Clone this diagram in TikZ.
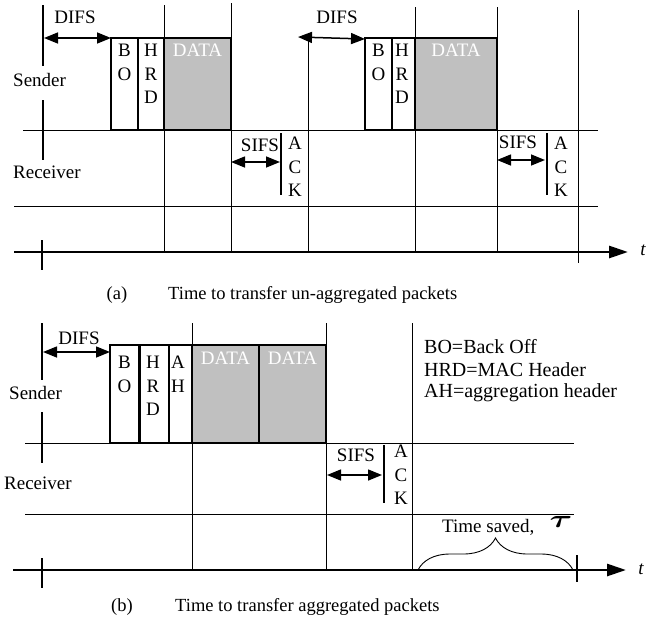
\documentclass[tikz,border=0pt]{standalone}
\usepackage{fontspec}
\setmainfont{Liberation Serif}
\usetikzlibrary{arrows.meta,decorations.pathreplacing}
\definecolor{datagray}{HTML}{C0C0C0}
\begin{document}
\begin{tikzpicture}[x=1pt,y=-1pt,
  lbl/.style={font=\fontsize{19}{23.5}\selectfont, inner sep=0pt},
  leg/.style={font=\fontsize{20}{24}\selectfont, inner sep=0pt, anchor=west},
  captext/.style={font=\fontsize{18.5}{22}\selectfont, inner sep=0pt},
  stack/.style={lbl, align=center, anchor=north},
  thinline/.style={line width=0.9pt},
  boxline/.style={line width=1.4pt},
  thickline/.style={line width=2.2pt},
  axisline/.style={line width=2.8pt, -{Triangle[length=19pt,width=12pt]}},
  dbl/.style={line width=1.5pt, {Triangle[length=14pt,width=11pt]}-{Triangle[length=14pt,width=11pt]}},
  databox/.style={boxline, fill=datagray},
  datatext/.style={lbl, text=white},
]
\useasboundingbox (0,0) rectangle (669,624);

%% ================= (a) =================
\draw[thinline] (23,130) -- (598,130);
\draw[thinline] (14,206) -- (598,206);
\draw[axisline] (14,252) -- (628,252);
\node[lbl, font=\fontsize{19}{22}\selectfont\itshape] (ta) at (643,250) {t};

\draw[thickline] (43,5) -- (43,66);
\draw[thickline] (43,100) -- (43,160);
\draw[thickline] (42,240) -- (42,270);
\node[lbl, anchor=west] (senda) at (13,80) {Sender};
\node[lbl, anchor=west] (reca) at (13,172) {Receiver};

\draw[thinline] (164,5) -- (164,252);
\draw[thinline] (231,3) -- (231,252);
\draw[thinline] (308,40) -- (308,252);
\draw[thinline] (415,7) -- (415,252);
\draw[thinline] (497,7) -- (497,252);
\draw[thinline] (578,10) -- (578,263);

\draw[boxline] (111,38) rectangle (138,130);
\draw[boxline] (138,38) rectangle (164,130);
\draw[databox] (164,38) rectangle (231,130);
\node[stack] (bo1) at (124.5,44) {B\\O};
\node[stack] (hrd1) at (151,44) {H\\R\\D};
\node[datatext] (data1) at (197.5,50) {DATA};

\coordinate (d1s) at (44,38);
\coordinate (d1e) at (111,38);
\draw[dbl] (d1s) -- (d1e);
\node[lbl] (difs1) at (75,17) {DIFS};

\coordinate (s1s) at (231,162);
\coordinate (s1e) at (280,162);
\draw[dbl] (s1s) -- (s1e);
\draw[boxline] (281,133) -- (281,195);
\node[lbl] (sifs1) at (260,145) {SIFS};
\node[stack] (ack1) at (295,137) {A\\C\\K};

\coordinate (d2s) at (298,37);
\coordinate (d2e) at (365,39);
\draw[dbl] (d2s) -- (d2e);
\node[lbl] (difs2) at (337,17) {DIFS};

\draw[boxline] (365,38) rectangle (392,130);
\draw[boxline] (392,38) rectangle (415,130);
\draw[databox] (415,38) rectangle (497,130);
\node[stack] (bo2) at (378.5,44) {B\\O};
\node[stack] (hrd2) at (402,44) {H\\R\\D};
\node[datatext] (data2) at (456,50) {DATA};

\coordinate (s2s) at (497,160);
\coordinate (s2e) at (545,160);
\draw[dbl] (s2s) -- (s2e);
\draw[boxline] (547,133) -- (547,195);
\node[lbl] (sifs2) at (518,142) {SIFS};
\node[stack] (ack2) at (561,137) {A\\C\\K};

\node[captext] (capa1) at (117,295) {(a)};
\node[captext, anchor=west] (capa2) at (168,295) {Time to transfer un-aggregated packets};

%% ================= (b) =================
\draw[thinline] (25,443) -- (574,443);
\draw[thinline] (25,514) -- (574,514);
\draw[axisline] (13,570) -- (626,570);
\node[lbl, font=\fontsize{19}{22}\selectfont\itshape] (tb) at (641,569) {t};

\draw[thickline] (42,323) -- (42,380);
\draw[thickline] (42,412) -- (42,463);
\draw[thickline] (42,558) -- (42,588);
\draw[thickline] (577,555) -- (577,582);
\node[lbl, anchor=west] (sendb) at (9,393) {Sender};
\node[lbl, anchor=west] (recb) at (4,483) {Receiver};

\draw[thinline] (192,323) -- (192,570);
\draw[thinline] (326,323) -- (326,570);
\draw[thinline] (412,323) -- (412,570);

\draw[boxline] (110,345) rectangle (139,443);
\draw[boxline] (140,345) rectangle (169,443);
\draw[boxline] (169,345) rectangle (192,443);
\draw[databox] (192,345) rectangle (259,443);
\draw[databox] (259,345) rectangle (326,443);
\node[stack] (bo3) at (124.5,356) {B\\O};
\node[stack] (hrd3) at (153,356) {H\\R\\D};
\node[stack] (ah3) at (178,356) {A\\H};
\node[datatext] (data3) at (225.5,358) {DATA};
\node[datatext] (data4) at (292.5,358) {DATA};

\coordinate (d3s) at (43,352);
\coordinate (d3e) at (110,352);
\draw[dbl] (d3s) -- (d3e);
\node[lbl] (difs3) at (79,338) {DIFS};

\coordinate (s3s) at (327,475);
\coordinate (s3e) at (382,475);
\draw[dbl] (s3s) -- (s3e);
\draw[boxline] (384,445) -- (384,503);
\node[lbl] (sifs3) at (356,455) {SIFS};
\node[stack] (ack3) at (401,445) {A\\C\\K};

\node[leg] (leg1) at (424,347) {BO=Back Off};
\node[leg] (leg2) at (424,370) {HRD=MAC Header};
\node[leg] (leg3) at (424,393) {AH=aggregation header};

\coordinate (tsl) at (418,570);
\coordinate (tsr) at (573,570);
\draw[line width=0.9pt, decorate, decoration={brace, amplitude=32pt}] (tsl) -- (tsr);
\node[lbl, anchor=west] (tsave) at (442,527) {Time saved,};
\node[inner sep=0pt, font=\fontsize{34}{36}\selectfont\boldmath, xscale=1.4, transform shape] (tau) at (561,522) {$\tau$};

\node[captext] (capb1) at (122,607) {(b)};
\node[captext, anchor=west] (capb2) at (175,607) {Time to transfer aggregated packets};
\end{tikzpicture}
\end{document}
